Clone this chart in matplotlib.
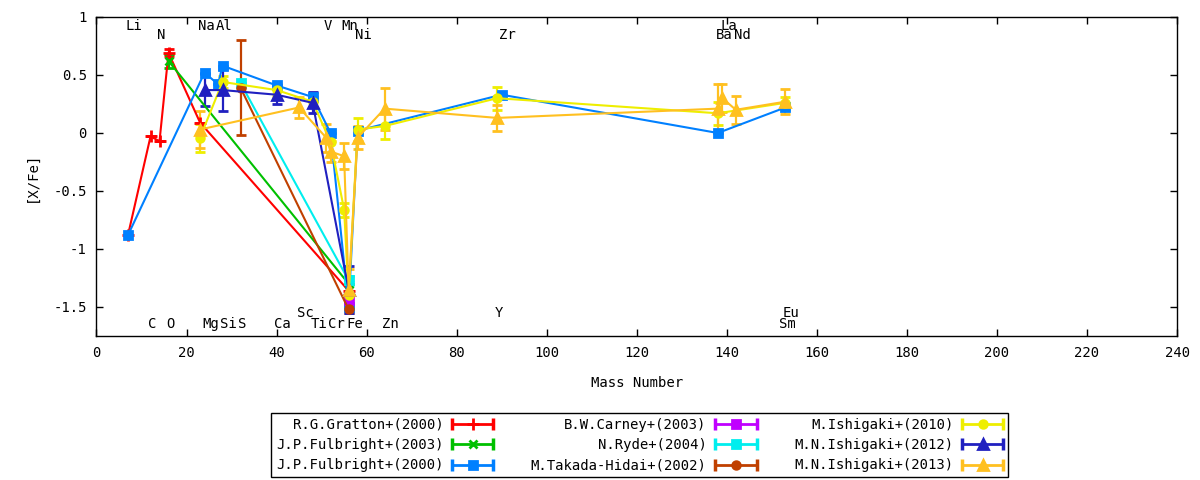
import numpy as np
import matplotlib
matplotlib.use('Agg')
import matplotlib.pyplot as plt
from matplotlib.lines import Line2D
from matplotlib.legend_handler import HandlerBase

plt.rcParams['font.family'] = ['DejaVu Sans Mono']
plt.rcParams['axes.unicode_minus'] = False

# mass number used as x position of each element
mass = {'Li': 7, 'C': 12, 'N': 14, 'O': 16, 'Na': 23, 'Mg': 24, 'Al': 27, 'Si': 28,
        'S': 32, 'Ca': 40, 'Sc': 45, 'Ti': 48, 'V': 51, 'Cr': 52, 'Mn': 55, 'Fe': 56,
        'Ni': 58, 'Zn': 64, 'Y': 89, 'Zr': 90, 'Ba': 138, 'La': 139, 'Nd': 142,
        'Sm': 152, 'Eu': 153}

# element labels, four rows (two on top, two at the bottom)
top_row1 = ['Li', 'Na', 'Al', 'V', 'Mn', 'La']
top_row2 = ['N', 'Ni', 'Zr', 'Ba', 'Nd']
bot_row1 = ['C', 'O', 'Mg', 'Si', 'S', 'Ca', 'Ti', 'Cr', 'Fe', 'Zn', 'Sm']
bot_row2 = ['Sc', 'Y', 'Eu']

gratton00_el = ['Li', 'C', 'N', 'O', 'Na', 'Fe']
gratton00_val = [-0.88, -0.03, -0.07, 0.69, 0.09, -1.36]
gratton00_err = [0.0, 0.0, 0.0, 0.03, 0.0, 0.0]

fulbright03_el = ['O', 'Fe']
fulbright03_val = [0.62, -1.30]
fulbright03_err = [0.06, 0.0]

fulbright00_el = ['Li', 'Mg', 'Al', 'Si', 'Ca', 'Ti', 'Cr', 'Fe', 'Ni', 'Zr', 'Ba', 'Eu']
fulbright00_val = [-0.88, 0.52, 0.42, 0.58, 0.41, 0.31, 0.0, -1.50, 0.02, 0.33, 0.0, 0.22]
fulbright00_err = [0.0] * 12

carney03_el = ['Fe']
carney03_val = [-1.44]
carney03_err = [0.04]

ryde04_el = ['S', 'Fe']
ryde04_val = [0.43, -1.27]
ryde04_err = [0.0, 0.04]

takada02_el = ['S', 'Fe']
takada02_val = [0.39, -1.52]
takada02_err = [0.41, 0.03]

ishigaki10_el = ['Na', 'Si', 'Ca', 'Ti', 'Cr', 'Mn', 'Fe', 'Ni', 'Zn', 'Y', 'Ba', 'Eu']
ishigaki10_val = [-0.04, 0.44, 0.37, 0.27, -0.08, -0.66, -1.40, 0.03, 0.06, 0.30, 0.17, 0.26]
ishigaki10_err = [0.12, 0.05, 0.05, 0.05, 0.10, 0.06, 0.10, 0.10, 0.11, 0.10, 0.10, 0.05]

ishigaki12_el = ['Mg', 'Si', 'Ca', 'Ti', 'Fe']
ishigaki12_val = [0.37, 0.37, 0.33, 0.26, -1.35]
ishigaki12_err = [0.14, 0.18, 0.08, 0.09, 0.20]

ishigaki13_el = ['Na', 'Sc', 'V', 'Cr', 'Mn', 'Fe', 'Ni', 'Zn', 'Y', 'Ba', 'La', 'Nd', 'Eu']
ishigaki13_val = [0.03, 0.22, -0.04, -0.16, -0.20, -1.35, -0.04, 0.21, 0.13, 0.21, 0.30, 0.20, 0.27]
ishigaki13_err = [0.16, 0.09, 0.12, 0.09, 0.11, 0.18, 0.10, 0.18, 0.11, 0.21, 0.12, 0.12, 0.11]

series = [
    ('R.G.Gratton+(2000)', gratton00_el, gratton00_val, gratton00_err, '#ff0000', '+', 8),
    ('J.P.Fulbright+(2003)', fulbright03_el, fulbright03_val, fulbright03_err, '#00c000', 'x', 6),
    ('J.P.Fulbright+(2000)', fulbright00_el, fulbright00_val, fulbright00_err, '#0080ff', 's', 6),
    ('B.W.Carney+(2003)', carney03_el, carney03_val, carney03_err, '#c000ff', 's', 6),
    ('N.Ryde+(2004)', ryde04_el, ryde04_val, ryde04_err, '#00eeee', 's', 6),
    ('M.Takada-Hidai+(2002)', takada02_el, takada02_val, takada02_err, '#c04000', 'o', 5.5),
    ('M.Ishigaki+(2010)', ishigaki10_el, ishigaki10_val, ishigaki10_err, '#eeee00', 'o', 5.5),
    ('M.N.Ishigaki+(2012)', ishigaki12_el, ishigaki12_val, ishigaki12_err, '#2020c0', '^', 7),
    ('M.N.Ishigaki+(2013)', ishigaki13_el, ishigaki13_val, ishigaki13_err, '#ffc020', '^', 7),
]


class ErrHandler(HandlerBase):
    # gnuplot-like key sample: |--o--|
    def create_artists(self, legend, orig_handle, xdescent, ydescent,
                       width, height, fontsize, trans):
        c = orig_handle.get_color()
        y = height / 2 - ydescent
        xs = [-xdescent, width - xdescent]
        line = Line2D(xs, [y, y], color=c, lw=2)
        caps = Line2D(xs, [y, y], ls='none', marker='|', ms=9, mew=2.5, color=c)
        mk = Line2D([(xs[0] + xs[1]) / 2], [y], ls='none', marker=orig_handle.get_marker(),
                    ms=orig_handle.get_markersize(), mew=2, color=c)
        for a in (line, caps, mk):
            a.set_transform(trans)
        return [line, caps, mk]


fig = plt.figure(figsize=(12, 4.8), dpi=100)
ax = fig.add_axes([0.0804, 0.3, 0.9005, 0.6646])

handles = []
for name, els, vals, errs, col, mk, ms in series:
    x = [mass[e] for e in els]
    ax.errorbar(x, vals, yerr=errs, color=col, marker=mk, ms=ms, mew=2, lw=1.5,
                elinewidth=1.6, capsize=3.5, capthick=2)
    handles.append(Line2D([], [], color=col, marker=mk, ms=ms, label=name))

for row, yy in ((top_row1, 0.925), (top_row2, 0.845), (bot_row1, -1.645), (bot_row2, -1.55)):
    for e in row:
        ax.text(mass[e] - 0.5, yy, e, ha='left', va='center', fontsize=10)

ax.set_xlim(0, 240)
ax.set_ylim(-1.75, 1)
ax.set_xticks(np.arange(0, 241, 20))
ax.set_yticks([-1.5, -1, -0.5, 0, 0.5, 1])
ax.set_yticklabels(['-1.5', '-1', '-0.5', '0', '0.5', '1'])
ax.tick_params(direction='in', length=5, width=1, top=True, right=True,
               labelsize=10, pad=7)
for s in ax.spines.values():
    s.set_linewidth(1)

ax.set_xlabel('Mass Number', fontsize=10)
ax.set_ylabel('[X/Fe]', fontsize=10)
ax.xaxis.set_label_coords(0.5, -0.125)
ax.yaxis.set_label_coords(-0.053, 0.5)

leg = fig.legend(handles=handles, loc='center', bbox_to_anchor=(0.533, 0.0725), ncol=3,
                 markerfirst=False, handler_map={Line2D: ErrHandler()},
                 handlelength=3.0, handletextpad=0.6, columnspacing=2.7,
                 labelspacing=0.45, borderpad=0.35, borderaxespad=0, fontsize=10,
                 fancybox=False, edgecolor='black', framealpha=1)
leg.get_frame().set_linewidth(1)

fig.savefig('out.png', dpi=100)
